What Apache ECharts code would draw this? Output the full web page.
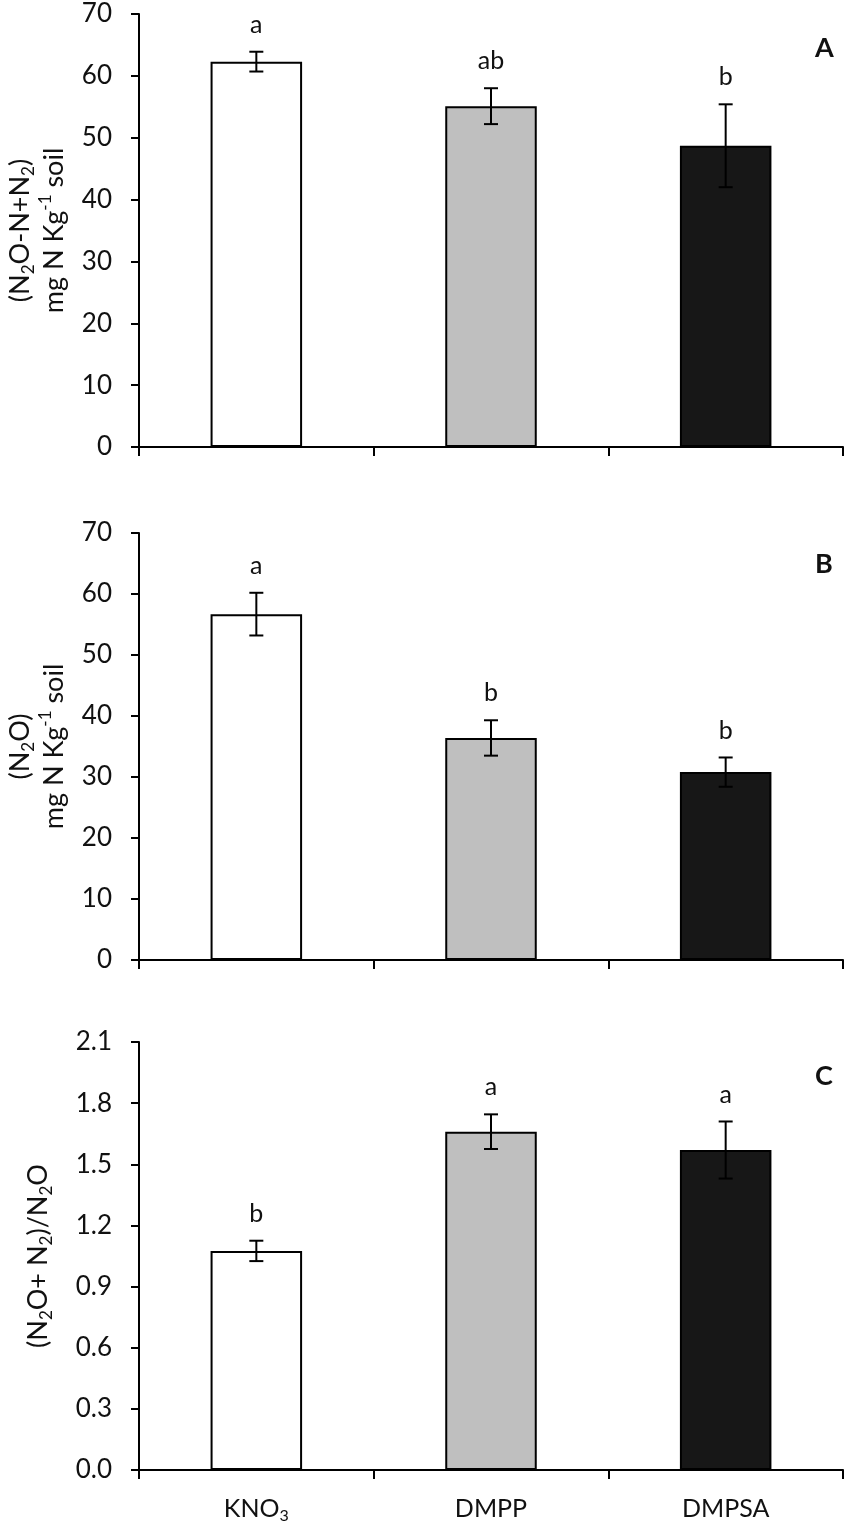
<!DOCTYPE html>
<html><head><meta charset="utf-8">
<script src="https://cdn.jsdelivr.net/npm/echarts@6/dist/echarts.min.js"></script>
<style>html,body{margin:0;padding:0;background:#fff}#c{width:850px;height:1530px}</style>
</head><body><div id="c"></div>
<script>
const categories = ['KNO3', 'DMPP', 'DMPSA'];
const totalN = [62.3, 55.1, 48.7];
const totalErr = [1.6, 2.9, 6.7];
const totalLetters = ['a', 'ab', 'b'];
const n2o = [56.7, 36.4, 30.8];
const n2oErr = [3.5, 2.9, 2.4];
const n2oLetters = ['a', 'b', 'b'];
const ratio = [1.075, 1.66, 1.57];
const ratioErr = [0.05, 0.085, 0.14];
const ratioLetters = ['b', 'a', 'a'];
const panelLetters = ['A', 'B', 'C'];
const barColors = ['#ffffff', '#bfbfbf', '#171717'];

const FONT = 'Lato';
const richName = {
  n: { fontFamily: FONT, fontSize: 27, color: '#111', lineHeight: 34 },
  s: { fontFamily: FONT, fontSize: 17, color: '#111', lineHeight: 17, verticalAlign: 'bottom' },
  p: { fontFamily: FONT, fontSize: 17, color: '#111', lineHeight: 17, verticalAlign: 'top' }
};
const richX = {
  n: { fontFamily: FONT, fontSize: 25, color: '#111', lineHeight: 30 },
  s: { fontFamily: FONT, fontSize: 16, color: '#111', lineHeight: 16, verticalAlign: 'bottom' }
};

const grids = [
  { left: 139, width: 704, top: 14, height: 433, outerBoundsMode: 'none', containLabel: false },
  { left: 139, width: 704, top: 533, height: 427, outerBoundsMode: 'none', containLabel: false },
  { left: 139, width: 704, top: 1042, height: 428, outerBoundsMode: 'none', containLabel: false }
];

function errRender(letters) {
  return function (params, api) {
    const i = api.value(0), v = api.value(1), e = api.value(2);
    const hi = api.coord([i, v + e]), lo = api.coord([i, v - e]);
    const x = hi[0], cw = 7;
    const st = { stroke: '#000', lineWidth: 2 };
    return { type: 'group', children: [
      { type: 'line', shape: { x1: x, y1: hi[1], x2: x, y2: lo[1] }, style: st },
      { type: 'line', shape: { x1: x - cw, y1: hi[1], x2: x + cw, y2: hi[1] }, style: st },
      { type: 'line', shape: { x1: x - cw, y1: lo[1], x2: x + cw, y2: lo[1] }, style: st },
      { type: 'text', x: x, y: hi[1] - 27, style: { text: letters[params.dataIndex], font: '25px ' + FONT, fill: '#111', align: 'center', verticalAlign: 'middle' } }
    ] };
  };
}

const xAxes = grids.map((g, k) => ({
  type: 'category', gridIndex: k, data: categories,
  axisLine: { lineStyle: { color: '#000', width: 2 } },
  axisTick: { show: true, length: 9, alignWithLabel: false, lineStyle: { color: '#000', width: 2 } },
  axisLabel: { show: k === 2, margin: 24, rich: richX,
    formatter: v => v === 'KNO3' ? '{n|KNO}{s|3}' : '{n|' + v + '}' }
}));

const names = [
  '{n|(N}{s|2}{n|O-N+N}{s|2}{n|)}\n{n|mg N Kg}{p|-1}{n| soil}',
  '{n|(N}{s|2}{n|O)}\n{n|mg N Kg}{p|-1}{n| soil}',
  '{n|(N}{s|2}{n|O+ N}{s|2}{n|)/N}{s|2}{n|O}'
];
const yAxes = grids.map((g, k) => ({
  type: 'value', gridIndex: k,
  min: 0, max: k === 2 ? 2.1 : 70, interval: k === 2 ? 0.3 : 10,
  name: names[k], nameLocation: 'middle', nameRotate: 90, nameGap: k === 2 ? 84 : 68,
  nameTextStyle: { rich: richName, align: 'center' },
  axisLine: { show: true, lineStyle: { color: '#000', width: 2 } },
  axisTick: { show: true, length: 8, lineStyle: { color: '#000', width: 2 } },
  splitLine: { show: false },
  axisLabel: { margin: 27, fontFamily: FONT, fontSize: 26, color: '#111',
    formatter: v => k === 2 ? v.toFixed(1) : String(v) }
}));

const sets = [[totalN, totalErr, totalLetters], [n2o, n2oErr, n2oLetters], [ratio, ratioErr, ratioLetters]];
const series = [];
sets.forEach((s, k) => {
  series.push({
    type: 'bar', xAxisIndex: k, yAxisIndex: k, barWidth: '39%',
    data: s[0].map((v, i) => ({ value: v, itemStyle: { color: barColors[i], borderColor: '#000', borderWidth: 2 } })),
    z: 2
  });
  series.push({
    type: 'custom', xAxisIndex: k, yAxisIndex: k, z: 5,
    renderItem: errRender(s[2]),
    data: s[0].map((v, i) => [i, v, s[1][i]])
  });
});

const chart = echarts.init(document.getElementById('c'), null, { renderer: 'canvas' });
chart.setOption({
  animation: false,
  backgroundColor: '#fff',
  grid: grids,
  xAxis: xAxes,
  yAxis: yAxes,
  title: panelLetters.map((t, k) => ({ text: t, left: 810, top: [30, 546, 1058][k],
    textStyle: { fontFamily: FONT, fontSize: 27, fontWeight: 'bold', color: '#111' } })),
  series: series
});
</script></body></html>
